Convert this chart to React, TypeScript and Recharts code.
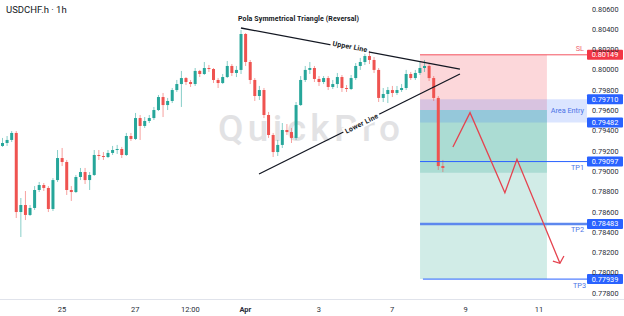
import React from 'react';
import {
  ComposedChart,
  Bar,
  Line,
  XAxis,
  YAxis,
  ReferenceArea,
  ReferenceLine,
} from 'recharts';

const FONT = 'Roboto, "Noto Sans", sans-serif';
const WIDTH = 624;
const HEIGHT = 316;
const HOUR_END = 383.9;

// 3h candles (the source is 1h, merged to keep it readable)
const candleOpen = [
  0.79251, 0.7928, 0.7931, 0.79379, 0.786, 0.78669, 0.78571, 0.7864, 0.78817, 0.78866,
  0.78837, 0.7863, 0.78915, 0.79132, 0.79093, 0.78817, 0.78797, 0.78945, 0.78994, 0.78915,
  0.78965, 0.79162, 0.79152, 0.79142, 0.79182, 0.79211, 0.79221, 0.79162, 0.79349, 0.7932,
  0.79526, 0.79448, 0.79497, 0.79526, 0.79605, 0.79733, 0.79654, 0.79694, 0.79802, 0.79861,
  0.7992, 0.79881, 0.79861, 0.7999, 0.7996, 0.80019, 0.80009, 0.79901, 0.79871, 0.7993,
  0.80039, 0.7997, 0.8, 0.80354, 0.80078, 0.79901, 0.79743, 0.79802, 0.79556, 0.79359,
  0.79191, 0.79261, 0.79408, 0.79388, 0.7933, 0.79654, 0.79901, 0.8, 0.80019, 0.79911,
  0.79881, 0.7992, 0.79832, 0.79861, 0.7993, 0.79822, 0.79812, 0.7992, 0.80039, 0.80078,
  0.80137, 0.80098, 0.8, 0.79724, 0.79763, 0.79802, 0.79773, 0.79802, 0.79822, 0.7996,
  0.7992, 0.7997, 0.80019, 0.80039, 0.7992, 0.79724, 0.79053,
];
const candleHigh = [
  0.7933, 0.79349, 0.79398, 0.79398, 0.78738, 0.78807, 0.78669, 0.78856, 0.78896, 0.78886,
  0.78856, 0.78935, 0.79211, 0.79231, 0.79113, 0.78856, 0.78965, 0.79034, 0.79034, 0.78994,
  0.79211, 0.79211, 0.79191, 0.79211, 0.79251, 0.79261, 0.79241, 0.79379, 0.79379, 0.79576,
  0.79556, 0.79536, 0.79556, 0.79635, 0.79753, 0.79773, 0.79724, 0.79822, 0.79901, 0.7999,
  0.7993, 0.79901, 0.80019, 0.8, 0.80078, 0.80049, 0.80019, 0.7992, 0.7996, 0.80088,
  0.80058, 0.80039, 0.80393, 0.80364, 0.80098, 0.7992, 0.79842, 0.79822, 0.79586, 0.79379,
  0.7931, 0.79477, 0.79467, 0.79428, 0.79684, 0.7994, 0.80039, 0.80078, 0.80039, 0.7994,
  0.7994, 0.7994, 0.79901, 0.7997, 0.7995, 0.79851, 0.7995, 0.80068, 0.80118, 0.80177,
  0.80187, 0.80127, 0.80019, 0.79822, 0.79832, 0.79842, 0.79842, 0.79861, 0.8, 0.7998,
  0.8, 0.80078, 0.80098, 0.80058, 0.7994, 0.79743, 0.79113,
];
const candleLow = [
  0.79241, 0.79251, 0.7929, 0.78541, 0.78354, 0.78521, 0.78561, 0.7862, 0.78797, 0.78807,
  0.786, 0.7861, 0.78896, 0.79053, 0.78768, 0.78709, 0.78787, 0.78915, 0.78876, 0.78817,
  0.78955, 0.79113, 0.79113, 0.79132, 0.79162, 0.79172, 0.79132, 0.79152, 0.793, 0.7931,
  0.7931, 0.79428, 0.79477, 0.79507, 0.79595, 0.79536, 0.79605, 0.79674, 0.79783, 0.79635,
  0.79851, 0.79832, 0.79842, 0.7993, 0.7995, 0.7998, 0.79871, 0.79822, 0.79861, 0.7992,
  0.7994, 0.7993, 0.7996, 0.80039, 0.79861, 0.79694, 0.79704, 0.79526, 0.7933, 0.79142,
  0.79152, 0.79231, 0.79359, 0.7928, 0.7931, 0.79645, 0.79881, 0.7996, 0.79881, 0.79842,
  0.79861, 0.79802, 0.79812, 0.79822, 0.79783, 0.79783, 0.79802, 0.79901, 0.8, 0.80049,
  0.80058, 0.7997, 0.79684, 0.79684, 0.79674, 0.79733, 0.79753, 0.79783, 0.79802, 0.79901,
  0.79901, 0.7995, 0.7998, 0.79891, 0.79694, 0.79014, 0.78994,
];
const candleClose = [
  0.7928, 0.7931, 0.79379, 0.786, 0.78669, 0.78571, 0.7864, 0.78817, 0.78866, 0.78837,
  0.7863, 0.78915, 0.79132, 0.79093, 0.78817, 0.78797, 0.78945, 0.78994, 0.78915, 0.78965,
  0.79162, 0.79152, 0.79142, 0.79182, 0.79211, 0.79221, 0.79162, 0.79349, 0.7932, 0.79526,
  0.79448, 0.79497, 0.79526, 0.79605, 0.79733, 0.79654, 0.79694, 0.79802, 0.79861, 0.7992,
  0.79881, 0.79861, 0.7999, 0.7996, 0.80019, 0.80009, 0.79901, 0.79871, 0.7993, 0.80039,
  0.7997, 0.8, 0.80354, 0.80078, 0.79901, 0.79743, 0.79802, 0.79556, 0.79359, 0.79191,
  0.79261, 0.79408, 0.79388, 0.7933, 0.79654, 0.79901, 0.8, 0.80019, 0.79911, 0.79881,
  0.7992, 0.79832, 0.79861, 0.7993, 0.79822, 0.79812, 0.7992, 0.80039, 0.80078, 0.80137,
  0.80098, 0.8, 0.79724, 0.79763, 0.79802, 0.79773, 0.79802, 0.79822, 0.7996, 0.7992,
  0.7997, 0.80019, 0.80039, 0.7992, 0.79724, 0.79053, 0.79034,
];

// x axis is in trading hours from the left edge
const tickHours = [40.5, 88.5, 124.5, 160.5, 208.5, 256.5, 304.5, 352.5];
const tickLabels = ['25', '27', '12:00', 'Apr', '3', '7', '9', '11'];
const priceTicks = [
  0.778, 0.78, 0.782, 0.784, 0.786, 0.788, 0.79, 0.792, 0.794, 0.796, 0.798, 0.8, 0.802,
  0.804, 0.806,
];

// trade levels
const levelPrices = [0.80149, 0.7971, 0.79482, 0.79097, 0.78483, 0.77939];
const levelTags = ['SL', '', '', 'TP1', 'TP2', 'TP3'];
const levelStart = [274.7, 0, 0, 274.7, 274.7, 276.6];
const entryPrice = 0.79605;
const tp1BoxPrice = 0.78987;
const boxHours = [274.7, 357.7];

// drawings
const upperHours = [157.6, 300.8];
const upperPrices = [0.80413, 0.80009];
const lowerHours = [169.4, 300.8];
const lowerPrices = [0.78975, 0.7996];
const arrowHours = [296.2, 307.4, 330.2, 338.1, 366.2];
const arrowPrices = [0.79241, 0.79579, 0.7879, 0.7912, 0.78095];
const headHours = [361.6, 366.2, 368.8];
const headPrices = [0.78117, 0.78095, 0.78167];

const UP = '#26a69a';
const DOWN = '#ef5350';
const RED = '#f23645';
const BLUE = '#2962ff';

const candles = candleClose.map((c, i) => ({
  t: 1.5 + i * 3,
  o: candleOpen[i],
  h: candleHigh[i],
  l: candleLow[i],
  c,
  range: [candleLow[i], candleHigh[i]],
}));

const toPts = (hours: number[], prices: number[]) =>
  hours.map((t, i) => ({ t, p: prices[i] }));

const Candle = (props: any) => {
  const { x, y, width, height, payload } = props;
  if (x == null || y == null || !payload) return null;
  const top = Math.min(y, y + height);
  const span = Math.abs(height);
  const { o, h, l, c } = payload;
  const py = (p: number) => top + ((h - p) / (h - l)) * span;
  const color = c >= o ? UP : DOWN;
  const bTop = py(Math.max(o, c));
  const bBot = py(Math.min(o, c));
  const cx = x + width / 2;
  return (
    <g>
      <line x1={cx} x2={cx} y1={top} y2={top + span} stroke={color} strokeOpacity={0.55} strokeWidth={1} />
      <rect x={x} y={bTop} width={width} height={Math.max(1, bBot - bTop)} fill={color} />
    </g>
  );
};

const XTick = (props: any) => {
  const { x, y, payload } = props;
  const i = tickHours.indexOf(payload.value);
  const label = tickLabels[i] ?? '';
  return (
    <text
      x={x}
      y={y + 11}
      textAnchor="middle"
      fontSize={7.5}
      fontFamily={FONT}
      fontWeight={label === 'Apr' ? 700 : 400}
      fill="#2a2e39"
    >
      {label}
    </text>
  );
};

const YTick = (props: any) => {
  const { x, y, payload } = props;
  return (
    <text x={x} y={y} dy="0.35em" textAnchor="start" fontSize={7.3} fontFamily={FONT} fill="#2a2e39">
      {payload.value.toFixed(5)}
    </text>
  );
};

const badge = (i: number) => (props: any) => {
  const vb = props.viewBox;
  if (!vb) return null;
  const right = vb.x + vb.width;
  const y = vb.y;
  const color = i === 0 ? RED : BLUE;
  const tag = levelTags[i];
  return (
    <g>
      <rect x={right} y={y - 5} width={36} height={10} fill={color} rx={1} />
      <text x={right + 18} y={y} dy="0.35em" textAnchor="middle" fontSize={7.3} fontFamily={FONT} fill="#fff">
        {levelPrices[i].toFixed(5)}
      </text>
      {tag && (
        <text
          x={right - (i === 5 ? 1 : 3)}
          y={y + (i === 0 ? -6.5 : 6)}
          dy="0.35em"
          textAnchor="end"
          fontSize={7.3}
          fontFamily={FONT}
          fill={i === 0 ? '#f0646f' : '#4b74e6'}
        >
          {tag}
        </text>
      )}
    </g>
  );
};

const entryLabel = (props: any) => {
  const vb = props.viewBox;
  if (!vb) return null;
  return (
    <text
      x={vb.x + vb.width - 3}
      y={vb.y + vb.height / 2}
      dy="0.35em"
      textAnchor="end"
      fontSize={7.3}
      fontFamily={FONT}
      fill="#4b74e6"
    >
      Area Entry
    </text>
  );
};

const RotLabel = ({ cx, cy, angle, text, w }: { cx: number; cy: number; angle: number; text: string; w: number }) => (
  <g transform={`translate(${cx},${cy}) rotate(${angle})`}>
    <rect x={-w / 2 - 2} y={-4.5} width={w + 4} height={9} fill="#fff" />
    <text
      x={0}
      y={0}
      dy="0.35em"
      textAnchor="middle"
      fontSize={7}
      fontWeight={700}
      fontFamily={FONT}
      fill="#131722"
      textLength={w}
    >
      {text}
    </text>
  </g>
);

const drawLine = (pts: { t: number; p: number }[], color: string, key: string) => (
  <Line
    key={key}
    xAxisId="draw"
    data={pts}
    dataKey="p"
    type="linear"
    stroke={color}
    strokeWidth={1.3}
    dot={false}
    activeDot={false}
    isAnimationActive={false}
  />
);

export default function App() {
  return (
    <div style={{ position: 'fixed', left: 0, top: 0, width: WIDTH, height: HEIGHT, background: '#fff' }}>
      <svg width={WIDTH} height={HEIGHT} style={{ position: 'absolute', left: 0, top: 0 }}>
        <text
          x={309}
          y={141}
          textAnchor="middle"
          fontSize={37}
          fontWeight={500}
          fontFamily={FONT}
          fill="#e2e2e4"
          textLength={182}
        >
          QuickPro
        </text>
      </svg>
      <div style={{ position: 'absolute', left: 0, top: 0 }}>
        <ComposedChart
          width={WIDTH}
          height={HEIGHT}
          data={candles}
          margin={{ top: 0, right: 0, bottom: 0, left: 0 }}
        >
          <XAxis
            dataKey="t"
            type="number"
            domain={[0, HOUR_END]}
            ticks={tickHours}
            interval={0}
            tick={<XTick />}
            tickLine={false}
            axisLine={false}
            tickSize={0}
            height={17}
            allowDataOverflow
          />
          {/* second, hidden axis for the drawings so they don't shrink the candle band */}
          <XAxis
            xAxisId="draw"
            dataKey="t"
            type="number"
            domain={[0, HOUR_END]}
            hide
            allowDataOverflow
          />
          <YAxis
            orientation="right"
            type="number"
            domain={[0.77743, 0.80689]}
            ticks={priceTicks}
            interval={0}
            tick={<YTick />}
            tickLine={false}
            axisLine={false}
            tickSize={0}
            tickMargin={5}
            width={37}
            allowDataOverflow
          />

          <ReferenceArea
            x1={boxHours[0]}
            x2={boxHours[1]}
            y1={entryPrice}
            y2={levelPrices[0]}
            fill={RED}
            fillOpacity={0.2}
            stroke="none"
          />
          <ReferenceArea
            x1={boxHours[0]}
            x2={boxHours[1]}
            y1={levelPrices[5]}
            y2={entryPrice}
            fill="#089981"
            fillOpacity={0.19}
            stroke="none"
          />
          <ReferenceArea
            x1={boxHours[0]}
            x2={boxHours[1]}
            y1={tp1BoxPrice}
            y2={entryPrice}
            fill="#089981"
            fillOpacity={0.19}
            stroke="none"
          />
          <ReferenceArea
            x1={boxHours[0]}
            x2={HOUR_END}
            y1={levelPrices[2]}
            y2={levelPrices[1]}
            fill={BLUE}
            fillOpacity={0.17}
            stroke="none"
            label={entryLabel}
          />

          {levelPrices.map((p, i) =>
            levelStart[i] > 0 ? (
              <ReferenceLine
                key={`lv${i}`}
                segment={[
                  { x: levelStart[i], y: p },
                  { x: HOUR_END, y: p },
                ]}
                stroke={i === 0 ? RED : i === 4 ? '#5d88ee' : BLUE}
                strokeWidth={i === 4 ? 2.5 : 1}
                strokeOpacity={i === 0 ? 0.85 : 1}
              />
            ) : null
          )}

          <Bar dataKey="range" barSize={3} shape={<Candle />} isAnimationActive={false} />

          {drawLine(toPts(upperHours, upperPrices), '#131722', 'upper')}
          {drawLine(toPts(lowerHours, lowerPrices), '#131722', 'lower')}
          {drawLine(toPts(arrowHours, arrowPrices), '#e5434f', 'arrow')}
          {drawLine(toPts(headHours, headPrices), '#e5434f', 'head')}

          {levelPrices.map((p, i) => (
            <ReferenceLine key={`bd${i}`} y={p} stroke="none" ifOverflow="visible" label={badge(i)} />
          ))}
        </ComposedChart>
      </div>
      <svg width={WIDTH} height={HEIGHT} style={{ position: 'absolute', left: 0, top: 0, pointerEvents: 'none' }}>
        <line x1={0} x2={WIDTH} y1={299.5} y2={299.5} stroke="#e0e3eb" strokeWidth={1} />
        <text x={6} y={12.5} fontSize={9.5} fontFamily={FONT} fill="#131722">
          USDCHF.h · 1h
        </text>
        <text
          x={298.5}
          y={20.5}
          textAnchor="middle"
          fontSize={7}
          fontWeight={700}
          fontFamily={FONT}
          fill="#131722"
          textLength={121}
        >
          Pola Symmetrical Triangle (Reversal)
        </text>
        <RotLabel cx={350} cy={46.5} angle={10.6} text="Upper Line" w={35} />
        <RotLabel cx={361.5} cy={123.5} angle={-26.5} text="Lower Line" w={36} />
      </svg>
    </div>
  );
}
